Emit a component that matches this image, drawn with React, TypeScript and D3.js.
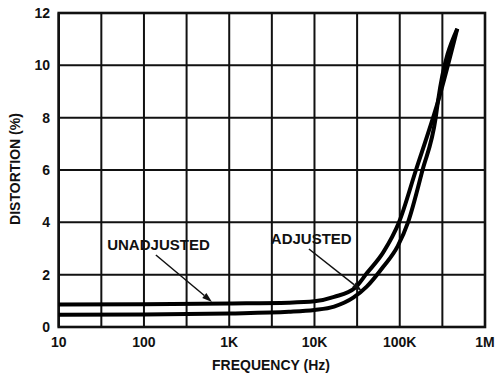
import React from "react";
import * as d3 from "d3";

const xTickValues = [10, 100, 1000, 10000, 100000, 1000000];
const xTickLabels = ["10", "100", "1K", "10K", "100K", "1M"];
const yTickValues = [0, 2, 4, 6, 8, 10, 12];

const unadjFreq = [10, 100, 1000, 5000, 10000, 17000, 30000, 41000, 64000, 98000, 155000, 246000, 280000, 473000];
const unadjDist = [0.86, 0.87, 0.9, 0.93, 0.98, 1.15, 1.5, 2.05, 2.85, 4.0, 6.0, 8.0, 8.6, 11.4];

const adjFreq = [10, 100, 1000, 5000, 10000, 17000, 28500, 41000, 64000, 95000, 125000, 185000, 264000, 280000, 473000];
const adjDist = [0.47, 0.48, 0.52, 0.58, 0.65, 0.78, 1.12, 1.54, 2.3, 3.1, 4.0, 6.0, 8.0, 8.6, 11.4];

const labelNames = ["UNADJUSTED", "ADJUSTED"];
const labelFreq = [148, 9160];
const labelDist = [2.94, 3.17];
const arrowFromFreq = [138, 8610];
const arrowFromDist = [2.75, 2.98];
const arrowToFreq = [628, 36000];
const arrowToDist = [0.96, 1.38];

const W = 495;
const H = 373;
const FONT = "'Liberation Sans', Arial, Helvetica, sans-serif";

export default function App() {
  const x = d3.scaleLog().domain([10, 1e6]).range([58.7, 485]);
  const y = d3.scaleLinear().domain([0, 12]).range([327, 13]);

  const gridX: number[] = [];
  for (let k = 0; k <= 10; k++) gridX.push(Math.pow(10, 1 + k / 2));

  const line = d3
    .line<[number, number]>()
    .x((d) => x(d[0]))
    .y((d) => y(d[1]))
    .curve(d3.curveMonotoneX);

  const unadj = unadjFreq.map((f, i) => [f, unadjDist[i]] as [number, number]);
  const adj = adjFreq.map((f, i) => [f, adjDist[i]] as [number, number]);

  const arrows = labelNames.map((_, i) => {
    const x1 = x(arrowFromFreq[i]);
    const y1 = y(arrowFromDist[i]);
    const x2 = x(arrowToFreq[i]);
    const y2 = y(arrowToDist[i]);
    const ang = Math.atan2(y2 - y1, x2 - x1);
    const len = 10;
    const wid = 3.2;
    const bx = x2 - len * Math.cos(ang);
    const by = y2 - len * Math.sin(ang);
    const px = -Math.sin(ang) * wid;
    const py = Math.cos(ang) * wid;
    const head = `M${x2},${y2}L${bx + px},${by + py}L${bx - px},${by - py}Z`;
    return { x1, y1, bx, by, head };
  });

  return (
    <svg
      width={W}
      height={H}
      style={{ position: "absolute", left: 0, top: 0, background: "#fff" }}
      fontFamily={FONT}
      fontWeight="bold"
    >
      <rect x={0} y={0} width={W} height={H} fill="#fff" />
      {/* grid */}
      {gridX.map((g, i) => (
        <line key={"gx" + i} x1={x(g)} x2={x(g)} y1={y(0)} y2={y(12)} stroke="#111" strokeWidth={2} />
      ))}
      {yTickValues.map((v, i) => (
        <line key={"gy" + i} x1={x(10)} x2={x(1e6)} y1={y(v)} y2={y(v)} stroke="#111" strokeWidth={2} />
      ))}
      <rect
        x={x(10)}
        y={y(12)}
        width={x(1e6) - x(10)}
        height={y(0) - y(12)}
        fill="none"
        stroke="#111"
        strokeWidth={2.6}
      />
      {/* curves */}
      <path d={line(adj) || ""} fill="none" stroke="#000" strokeWidth={4} strokeLinejoin="round" />
      <path d={line(unadj) || ""} fill="none" stroke="#000" strokeWidth={4} strokeLinejoin="round" />
      {/* tick labels */}
      {xTickValues.map((v, i) => (
        <text key={"xt" + i} x={x(v)} y={347} textAnchor="middle" fontSize={14} fill="#111">
          {xTickLabels[i]}
        </text>
      ))}
      {yTickValues.map((v, i) => (
        <text key={"yt" + i} x={50} y={y(v) + 5} textAnchor="end" fontSize={14} fill="#111">
          {String(v)}
        </text>
      ))}
      {/* axis titles */}
      <text x={271} y={370} textAnchor="middle" fontSize={14} fill="#111">
        FREQUENCY (Hz)
      </text>
      <text
        transform={`translate(20,169) rotate(-90)`}
        textAnchor="middle"
        fontSize={14}
        fill="#111"
      >
        DISTORTION (%)
      </text>
      {/* annotations */}
      {labelNames.map((name, i) => (
        <g key={"ann" + i}>
          <text x={x(labelFreq[i])} y={y(labelDist[i])} textAnchor="middle" fontSize={15} fill="#111">
            {name}
          </text>
          <line
            x1={arrows[i].x1}
            y1={arrows[i].y1}
            x2={arrows[i].bx}
            y2={arrows[i].by}
            stroke="#111"
            strokeWidth={1.5}
          />
          <path d={arrows[i].head} fill="#111" />
        </g>
      ))}
    </svg>
  );
}
